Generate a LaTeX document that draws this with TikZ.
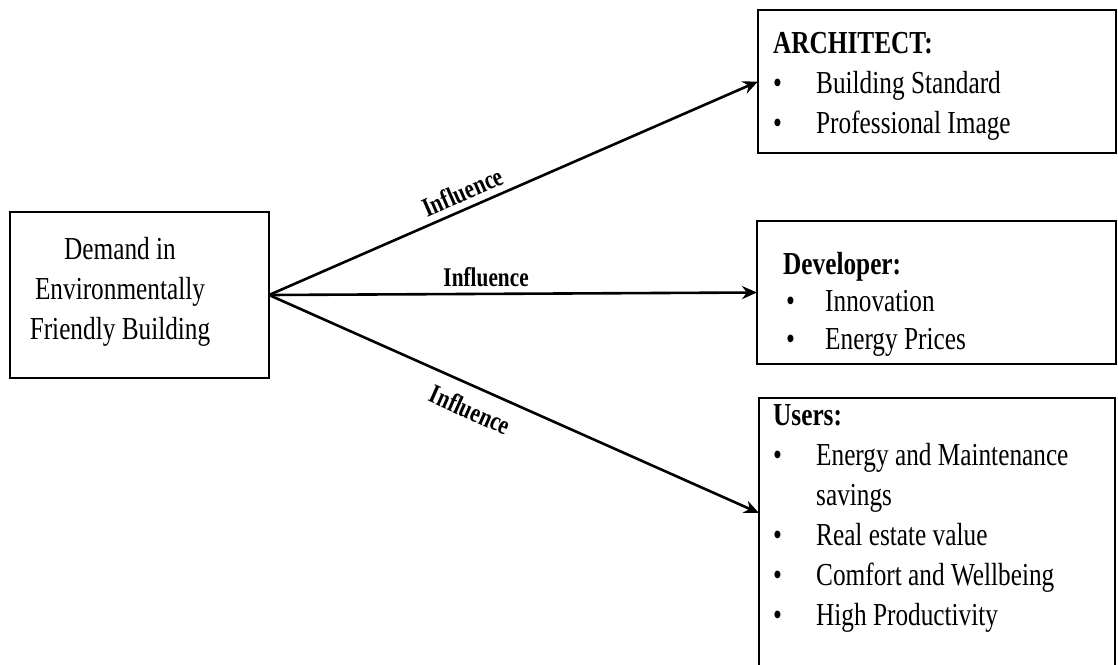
\documentclass[tikz,border=0pt]{standalone}
\usepackage{fontspec}
\setmainfont{Liberation Serif}[FakeStretch=0.79]
\usetikzlibrary{arrows.meta}
% bullet followed by a fixed gap before the item text
\newcommand\bulitem[1][43pt]{\makebox[#1][l]{\textbullet}}
\begin{document}
\begin{tikzpicture}[x=1pt,y=-1pt,
  box/.style={draw=black, line width=2.8pt, anchor=north west, inner sep=0pt, outer sep=0pt},
  body/.style={font=\fontsize{32}{40}\selectfont},
  list/.style={body, anchor=north west, align=left, inner sep=0pt},
  link/.style={line width=2.6pt, -{Stealth[length=15pt,width=13pt]}},
  infl/.style={font=\fontsize{27}{30}\selectfont\bfseries, sloped}
]
\useasboundingbox (0,0) rectangle (1118,664);

% source box
\node[box, minimum width=259pt, minimum height=166pt] (demand) at (10,212) {};
\node[body, align=center, inner sep=0pt] (demandtxt) at (120,292)
  {Demand in\\Environmentally\\Friendly Building};

% stakeholder boxes
\node[box, minimum width=358pt, minimum height=143pt] (arch) at (758,10) {};
\node[list] (archtxt) at (773,32)
  {\textbf{ARCHITECT:}\\\bulitem Building Standard\\\bulitem Professional Image};

\node[box, minimum width=359pt, minimum height=143pt] (dev) at (757,221) {};
\node[list, font=\fontsize{32}{37.5}\selectfont] (devtxt) at (786,252)
  {\hspace*{-3pt}\textbf{Developer:}\\\bulitem[39pt]Innovation\\\bulitem[39pt]Energy Prices};

% the users box runs on past the lower border
\node[box, minimum width=356pt, minimum height=285pt] (users) at (759,398) {};
\node[list] (userstxt) at (773,404)
  {\textbf{Users:}\\\bulitem Energy and Maintenance\\\hspace*{43pt}savings\\
   \bulitem Real estate value\\\bulitem Comfort and Wellbeing\\\bulitem High Productivity};

% influence arrows
\draw[link] (demand.east) -- (arch.west)
  node[infl, pos=0.41, above, inner sep=6pt] {Influence};
\draw[link] (demand.east) -- (dev.west)
  node[infl, pos=0.445, above, inner sep=6pt] {Influence};
\draw[link] (demand.east) -- ([yshift=-115pt]users.north west)
  node[infl, pos=0.43, below, inner sep=12pt] {Influence};
\end{tikzpicture}
\end{document}
